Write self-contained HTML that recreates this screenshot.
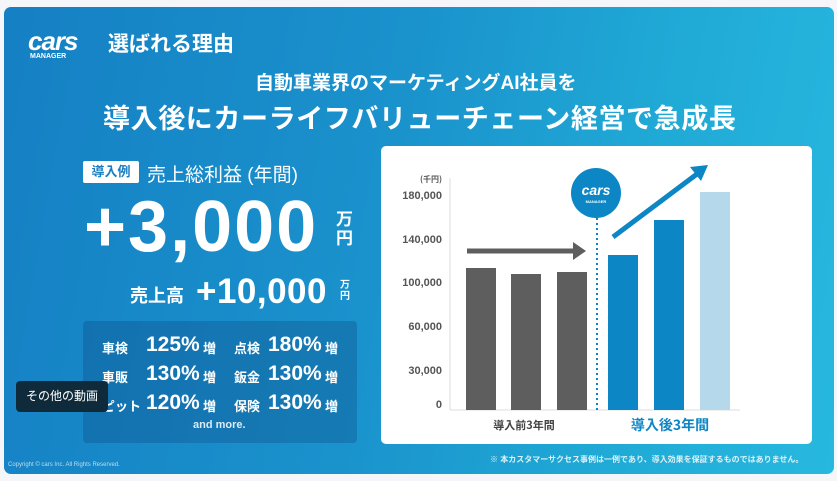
<!DOCTYPE html><html><head><meta charset="utf-8"><style>
*{margin:0;padding:0;box-sizing:border-box}
body{width:837px;height:481px;background:#f4f6f9;position:relative;overflow:hidden;font-family:"Liberation Sans","Noto Sans CJK JP",sans-serif;color:#fff}
.s{position:absolute;left:4px;top:7px;width:830px;height:467px;border-radius:7px;background:linear-gradient(100deg,#1580c4 0%,#1a92cc 45%,#20aad6 75%,#27b8df 100%);overflow:hidden}
.a{position:absolute;white-space:nowrap;font-weight:bold}
</style></head><body>
<div class="s"></div>
<div class="a" style="left:28px;top:26px;font-size:26px;font-style:italic;letter-spacing:-1px">cars</div>
<div class="a" style="left:30px;top:53px;font-size:7px">MANAGER</div>
<div class="a" style="left:108px;top:28px;font-size:21px">選ばれる理由</div>
<div class="a" style="left:255px;top:68px;font-size:19px">自動車業界のマーケティングAI社員を</div>
<div class="a" style="left:103px;top:97px;font-size:27px;letter-spacing:0.6px">導入後にカーライフバリューチェーン経営で急成長</div>
<div class="a" style="left:83px;top:161px;width:56px;height:22px;background:#fff;color:#1a7fc0;font-size:13px;text-align:center;line-height:22px;border-radius:2px">導入例</div>
<div class="a" style="left:147px;top:160px;font-size:19px;font-weight:normal">売上総利益 (年間)</div>
<div class="a" style="left:84px;top:186px;font-size:72px;letter-spacing:2px">+3,000</div>
<div class="a" style="left:336px;top:210px;font-size:17px;line-height:19px">万<br>円</div>
<div class="a" style="left:130px;top:282px;font-size:18px">売上高</div>
<div class="a" style="left:196px;top:272px;font-size:35px;letter-spacing:0.5px">+10,000</div>
<div class="a" style="left:340px;top:280px;font-size:10px;line-height:11px">万<br>円</div>
<div style="position:absolute;left:83px;top:321px;width:274px;height:122px;background:rgba(10,60,120,0.28);border-radius:4px"></div>
<div class="a" style="left:102px;top:334px;font-size:13px;line-height:29px">車検<br>車販<br>ピット</div>
<div class="a" style="left:146px;top:330px;font-size:21px;line-height:29px">125%<br>130%<br>120%</div>
<div class="a" style="left:203px;top:334px;font-size:13px;line-height:29px">増<br>増<br>増</div>
<div class="a" style="left:234px;top:334px;font-size:13px;line-height:29px">点検<br>鈑金<br>保険</div>
<div class="a" style="left:268px;top:330px;font-size:21px;line-height:29px">180%<br>130%<br>130%</div>
<div class="a" style="left:325px;top:334px;font-size:13px;line-height:29px">増<br>増<br>増</div>
<div class="a" style="left:193px;top:419px;font-size:11px;opacity:.85">and more.</div>
<div style="position:absolute;left:16px;top:381px;width:92px;height:31px;background:#0f2b3b;border-radius:4px;font-size:12px;line-height:31px;text-align:center">その他の動画</div>
<div class="a" style="left:8px;top:462px;font-size:6px;font-weight:normal;opacity:.7">Copyright © cars Inc. All Rights Reserved.</div>
<div class="a" style="left:490px;top:454px;font-size:8px;opacity:.85">※ 本カスタマーサクセス事例は一例であり、導入効果を保証するものではありません。</div>
<svg style="position:absolute;left:381px;top:146px" width="431" height="298" viewBox="381 146 431 298">
<rect x="381" y="146" width="431" height="298" rx="5" fill="#fff"/>
<g font-family="Liberation Sans,sans-serif" font-weight="bold" font-size="11" fill="#555" text-anchor="end">
<text x="442" y="182" font-size="8" font-family="Noto Sans CJK JP">(千円)</text>
<text x="442" y="199">180,000</text><text x="442" y="243">140,000</text><text x="442" y="286">100,000</text><text x="442" y="330">60,000</text><text x="442" y="374">30,000</text><text x="442" y="408">0</text></g>
<line x1="450" y1="178" x2="450" y2="410" stroke="#ddd"/>
<line x1="450" y1="410" x2="740" y2="410" stroke="#ddd"/>
<rect x="466" y="268" width="30" height="142" fill="#5e5e5e"/>
<rect x="511" y="274" width="30" height="136" fill="#5e5e5e"/>
<rect x="557" y="272" width="30" height="138" fill="#5e5e5e"/>
<rect x="608" y="255" width="30" height="155" fill="#0c86c4"/>
<rect x="654" y="220" width="30" height="190" fill="#0c86c4"/>
<rect x="700" y="192" width="30" height="218" fill="#b5d9ea"/>
<line x1="597" y1="218" x2="597" y2="410" stroke="#0c86c4" stroke-width="2" stroke-dasharray="2 3"/>
<line x1="467" y1="251" x2="575" y2="251" stroke="#5e5e5e" stroke-width="5"/>
<polygon points="573,242 586,251 573,260" fill="#5e5e5e"/>
<line x1="613" y1="237" x2="697" y2="174" stroke="#0c86c4" stroke-width="5"/>
<polygon points="690,167 708,165 701,181" fill="#0c86c4"/>
<circle cx="596" cy="193" r="25" fill="#0c86c4"/>
<text x="596" y="195" font-size="14" font-style="italic" font-weight="bold" fill="#fff" text-anchor="middle" font-family="Liberation Sans">cars</text>
<text x="596" y="203" font-size="4" font-weight="bold" fill="#fff" text-anchor="middle" font-family="Liberation Sans">MANAGER</text>
<text x="524" y="429" font-size="11" font-weight="bold" fill="#444" text-anchor="middle" font-family="Noto Sans CJK JP">導入前3年間</text>
<text x="670" y="430" font-size="14" font-weight="bold" fill="#0c86c4" text-anchor="middle" font-family="Noto Sans CJK JP">導入後3年間</text>
</svg>
</body></html>
